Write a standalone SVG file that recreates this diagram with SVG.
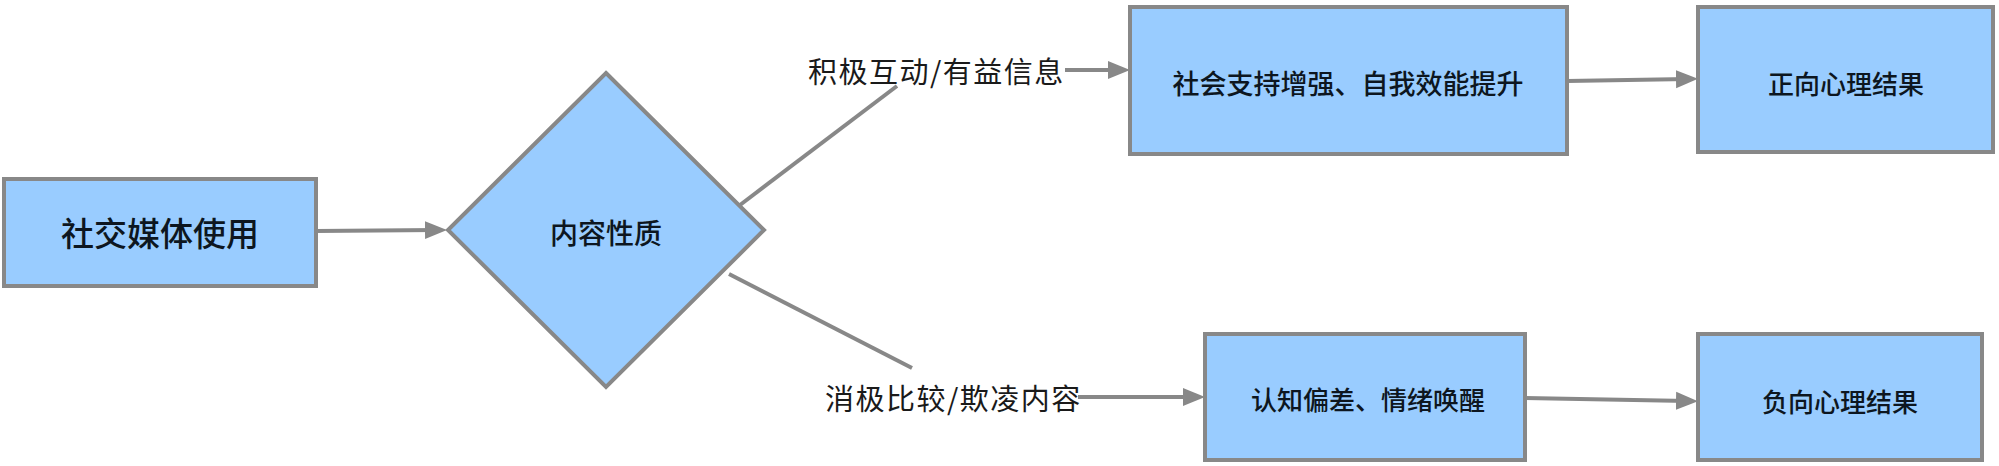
<svg xmlns="http://www.w3.org/2000/svg" width="1999" height="466" viewBox="0 0 1999 466">
<style>
.node{fill:#99ccff;stroke:#888888;stroke-width:4}
.t{font-family:"Noto Sans CJK SC","Liberation Sans",sans-serif;fill:#0d1620;text-anchor:middle;dominant-baseline:central;font-weight:500}
.lbl{font-family:"Noto Sans CJK SC","Liberation Sans",sans-serif;fill:#1a1a1a;font-size:29px;letter-spacing:1.5px;dominant-baseline:central}
.c{stroke:#888888;stroke-width:4;fill:none}
</style>
<defs>
<marker id="arr" markerUnits="userSpaceOnUse" markerWidth="22" markerHeight="20" refX="12" refY="10" orient="auto">
<path d="M0,1 L22,10 L0,19 z" fill="#888888"/>
</marker>
</defs>
<g id="connectors">
<line class="c" x1="316" y1="231" x2="437" y2="230" marker-end="url(#arr)"/>
<line class="c" x1="740" y1="205" x2="897" y2="86"/>
<line class="c" x1="1065" y1="70" x2="1120" y2="70" marker-end="url(#arr)"/>
<line class="c" x1="1567" y1="81" x2="1688" y2="79" marker-end="url(#arr)"/>
<line class="c" x1="729" y1="274" x2="912" y2="368"/>
<line class="c" x1="1078" y1="397" x2="1195" y2="397" marker-end="url(#arr)"/>
<line class="c" x1="1525" y1="398" x2="1688" y2="401" marker-end="url(#arr)"/>
</g>
<g id="edge-label-positive">
<text class="lbl" x="808" y="70">积极互动/有益信息</text>
</g>
<g id="edge-label-negative">
<text class="lbl" x="825" y="397">消极比较/欺凌内容</text>
</g>
<g id="node-social-media">
<rect class="node" x="4" y="179" width="312" height="107"/>
<text class="t" x="160" y="232" font-size="33">社交媒体使用</text>
</g>
<g id="node-content">
<polygon class="node" points="606,73 764,230 606,387 448,230"/>
<text class="t" x="606" y="232" font-size="28">内容性质</text>
</g>
<g id="node-support">
<rect class="node" x="1130" y="7" width="437" height="147"/>
<text class="t" x="1348" y="82" font-size="27">社会支持增强、自我效能提升</text>
</g>
<g id="node-positive">
<rect class="node" x="1698" y="7" width="295" height="145"/>
<text class="t" x="1846" y="82" font-size="26">正向心理结果</text>
</g>
<g id="node-bias">
<rect class="node" x="1205" y="334" width="320" height="126"/>
<text class="t" x="1368" y="398" font-size="26">认知偏差、情绪唤醒</text>
</g>
<g id="node-negative">
<rect class="node" x="1698" y="334" width="284" height="126"/>
<text class="t" x="1840" y="400" font-size="26">负向心理结果</text>
</g>
</svg>
